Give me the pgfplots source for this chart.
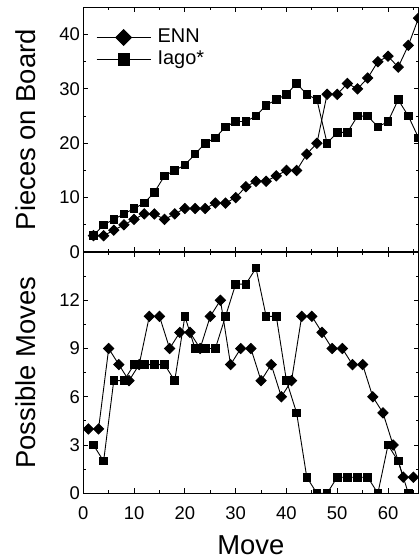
\documentclass[border=0pt]{standalone}
\usepackage{fontspec}
\setmainfont{Liberation Sans}
\usepackage{pgfplots}
\usepackage{pgfplotstable}
\pgfplotsset{compat=1.18}

\pgfplotstableread{
x enn iago
2 3 3
4 3 5
6 4 6
8 5 7
10 6 8
12 7 9
14 7 11
16 6 14
18 7 15
20 8 16
22 8 18
24 8 20
26 9 21
28 9 23
30 10 24
32 12 24
34 13 25
36 13 27
38 14 28
40 15 29
42 15 31
44 18 29
46 20 28
48 29 20
50 29 22
52 31 22
54 30 25
56 32 25
58 35 23
60 36 24
62 34 28
64 38 25
66 43 21
}\pieces

\pgfplotstableread{
x y
1 4
3 4
5 9
7 8
9 7
11 8
13 11
15 11
17 9
19 10
21 10
23 9
25 11
27 12
29 8
31 9
33 9
35 7
37 8
39 6
41 7
43 11
45 11
47 10
49 9
51 9
53 8
55 8
57 6
59 5
61 3
63 1
65 1
}\ennmoves

\pgfplotstableread{
x y
2 3
4 2
6 7
8 7
10 8
12 8
14 8
16 8
18 7
20 11
22 9
24 9
26 9
28 11
30 13
32 13
34 14
36 11
38 11
40 7
42 5
44 1
46 0
48 0
50 1
52 1
54 1
56 1
58 0
60 3
62 2
64 0
}\iagomoves

\pgfplotsset{
  common/.style={
    scale only axis, width=335.2bp,
    xmin=0, xmax=66,
    xtick={0,10,...,60}, minor xtick={5,15,...,65},
    tick align=inside,
    major tick length=5bp, minor tick length=3bp,
    axis line style={line width=1.1bp},
    every tick/.style={black, line width=0.9bp},
    tick label style={font=\fontsize{18.5}{22}\selectfont},
    /pgf/number format/assume math mode=true,
    clip marker paths=true,
    ylabel style={at={(axis description cs:-0.2038,0.5)}, anchor=north, inner sep=0pt, font=\fontsize{27.5}{32}\selectfont},
    xlabel style={at={(axis description cs:0.5,0)}, anchor=north, inner sep=0pt, yshift=-41.7bp, font=\fontsize{27.5}{32}\selectfont},
    xticklabel style={inner sep=0pt, yshift=-12.7bp},
  },
  ennstyle/.style={black, line width=0.9bp, mark=square*, mark size=3.6bp, mark options={rotate=45, solid}},
  iagostyle/.style={black, line width=0.9bp, mark=square*, mark size=3.8bp, mark options={solid}},
}

\begin{document}
\begin{tikzpicture}
\useasboundingbox (0,0) rectangle (420bp,559bp);
\begin{axis}[common,
  at={(83.3bp,307bp)}, anchor=south west,
  height=244.7bp,
  ymin=0, ymax=45,
  ytick={0,10,...,40}, minor ytick={5,15,...,45},
  xticklabels={},
  ylabel={Pieces on Board},
  legend style={at={(axis description cs:0,1)}, anchor=north west,
    xshift=12.7bp, yshift=-20.5bp, draw=none, fill=none, inner sep=0pt,
    row sep=3bp, font=\fontsize{20}{24}\selectfont,
    nodes={inner xsep=6.5bp, inner ysep=0pt, text height=14.5bp, text depth=4.5bp}},
  legend cell align=left,
  legend image code/.code={\draw[mark repeat=2,mark phase=2,#1] plot coordinates {(0bp,0bp)(27bp,0bp)(54bp,0bp)};},
  legend image post style={mark size=5.6bp},
]
\addplot[ennstyle] table[x=x,y=enn]{\pieces};
\addlegendentry{ENN}
\addplot[iagostyle] table[x=x,y=iago]{\pieces};
\addlegendentry{Iago*}
\end{axis}
\begin{axis}[common,
  at={(83.3bp,307bp)}, anchor=north west,
  height=241.3bp,
  ymin=0, ymax=15,
  ytick={0,3,...,12}, minor ytick={1.5,4.5,...,13.5},
  xlabel={Move},
  ylabel={Possible Moves},
]
\addplot[ennstyle] table[x=x,y=y]{\ennmoves};
\addplot[iagostyle] table[x=x,y=y]{\iagomoves};
\end{axis}
\end{tikzpicture}
\end{document}
